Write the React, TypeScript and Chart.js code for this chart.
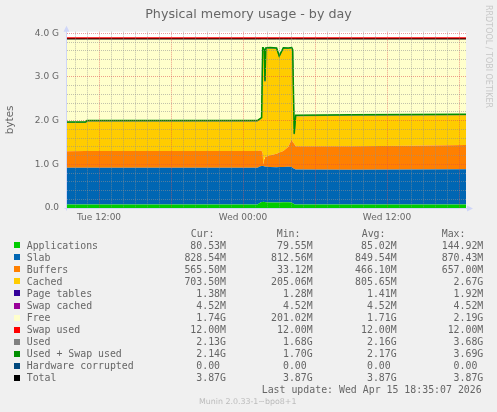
import React, { useEffect, useRef } from "react";
import { Chart, registerables } from "chart.js";

Chart.register(...registerables);

// ---- time axis (hours since Tue 00:00) ----
const hours = [9.333, 10.9, 11.0, 25.2, 25.4, 25.55, 25.64, 25.69, 25.78, 25.83, 25.9, 26.25, 26.8, 27.02, 27.36, 27.78, 28.06, 28.14, 28.27, 28.39, 33.0, 38.0, 42.583];

// ---- series values (MiB) ----
const applications = [80, 80, 80, 81, 120, 138, 142, 145, 140, 138, 135, 130, 128, 130, 132, 135, 130, 110, 90, 82, 80, 80, 80.5];
const slab = [862, 864, 865, 865, 855, 845, 840, 838, 835, 833, 832, 830, 830, 830, 830, 830, 832, 830, 828, 818, 814, 820, 828.5];
const buffers = [390, 390, 390, 390, 375, 360, 300, 33, 180, 220, 237, 277, 314, 340, 377, 471, 650, 610, 590, 548, 555, 562, 565.5];
const cached = [669, 667, 697, 696, 724, 761, 2460, 2726, 2539, 1773, 2530, 2507, 2462, 2247, 2400, 2298, 2132, 2144, 216, 706, 720, 712, 703.5];
const pageTables = [1.3, 1.3, 1.3, 1.3, 1.5, 1.7, 1.9, 1.9, 1.9, 1.9, 1.9, 1.8, 1.8, 1.8, 1.8, 1.8, 1.8, 1.7, 1.5, 1.4, 1.4, 1.4, 1.38];
const swapCached = [4.52, 4.52, 4.52, 4.52, 4.52, 4.52, 4.52, 4.52, 4.52, 4.52, 4.52, 4.52, 4.52, 4.52, 4.52, 4.52, 4.52, 4.52, 4.52, 4.52, 4.52, 4.52, 4.52];
const free = [1956, 1956, 1925, 1925, 1883, 1853, 215, 215, 263, 993, 223, 213, 223, 410, 218, 223, 213, 263, 2233, 1803, 1788, 1783, 1779];
const swapUsed = [12, 12, 12, 12, 12, 12, 12, 12, 12, 12, 12, 12, 12, 12, 12, 12, 12, 12, 12, 12, 12, 12, 12];
const used = [2007, 2007, 2038, 2038, 2080, 2110, 3748, 3748, 3700, 2970, 3740, 3750, 3740, 3553, 3745, 3740, 3750, 3700, 1730, 2160, 2175, 2180, 2184];
const usedSwap = [2019, 2019, 2050, 2050, 2092, 2122, 3760, 3760, 3712, 2982, 3752, 3762, 3752, 3565, 3757, 3752, 3762, 3712, 1742, 2172, 2187, 2192, 2196];
const total = [3963, 3963, 3963, 3963, 3963, 3963, 3963, 3963, 3963, 3963, 3963, 3963, 3963, 3963, 3963, 3963, 3963, 3963, 3963, 3963, 3963, 3963, 3963];

// ---- ticks ----
const xTickHours = [12, 24, 36];
const xTickLabels = ["Tue 12:00", "Wed 00:00", "Wed 12:00"];
const yTickG = [0, 0.2, 0.4, 0.6, 0.8, 1, 1.2, 1.4, 1.6, 1.8, 2, 2.2, 2.4, 2.6, 2.8, 3, 3.2, 3.4, 3.6, 3.8, 4];
const yMajorG = [0, 1, 2, 3, 4];
const yMajorLabels = ["0.0", "1.0 G", "2.0 G", "3.0 G", "4.0 G"];

// ---- legend table ----
const legendNames = ["Applications", "Slab", "Buffers", "Cached", "Page tables", "Swap cached", "Free", "Swap used", "Used", "Used + Swap used", "Hardware corrupted", "Total"];
const legendColors = ["#00CC00", "#0066B3", "#FF8000", "#FFCC00", "#330099", "#990099", "#FFFFCC", "#FF0000", "#808080", "#008F00", "#00487D", "#000000"];
const curValues = ["80.53M", "828.54M", "565.50M", "703.50M", "1.38M", "4.52M", "1.74G", "12.00M", "2.13G", "2.14G", "0.00 ", "3.87G"];
const minValues = ["79.55M", "812.56M", "33.12M", "205.06M", "1.28M", "4.52M", "201.02M", "12.00M", "1.68G", "1.70G", "0.00 ", "3.87G"];
const avgValues = ["85.02M", "849.54M", "466.10M", "805.65M", "1.41M", "4.52M", "1.71G", "12.00M", "2.16G", "2.17G", "0.00 ", "3.87G"];
const maxValues = ["144.92M", "870.43M", "657.00M", "2.67G", "1.92M", "4.52M", "2.19G", "12.00M", "3.68G", "3.69G", "0.00 ", "3.87G"];

const GRID = "rgba(143,143,143,0.55)";
const MGRID = "rgba(222,79,79,0.55)";
const AXIS = "#CFD6F8";
const FONT_COLOR = "#666666";

const framePlugin = {
  id: "frame",
  beforeDraw(chart: any) {
    const { ctx, chartArea: a } = chart;
    ctx.save();
    ctx.fillStyle = "#FFFFFF";
    ctx.fillRect(a.left, a.top, a.right - a.left, a.bottom - a.top);
    ctx.restore();
  },
  afterDraw(chart: any) {
    const { ctx, chartArea: a } = chart;
    ctx.save();
    ctx.strokeStyle = AXIS;
    ctx.fillStyle = AXIS;
    ctx.lineWidth = 1;
    const lx = Math.round(a.left) - 0.5;
    const by = Math.round(a.bottom) + 0.5;
    ctx.beginPath();
    ctx.moveTo(lx, by + 2);
    ctx.lineTo(lx, a.top - 1);
    ctx.moveTo(lx - 2, by);
    ctx.lineTo(a.right + 2, by);
    ctx.stroke();
    ctx.beginPath();
    ctx.moveTo(lx, a.top - 6);
    ctx.lineTo(lx - 3, a.top);
    ctx.lineTo(lx + 3, a.top);
    ctx.closePath();
    ctx.fill();
    ctx.beginPath();
    ctx.moveTo(a.right + 7, by);
    ctx.lineTo(a.right + 1, by - 3);
    ctx.lineTo(a.right + 1, by + 3);
    ctx.closePath();
    ctx.fill();
    ctx.restore();
  },
};

function Txt(props: { x: number; top: number; align?: "left" | "right" | "center"; size: number; mono?: boolean; color?: string; children: any }) {
  const { x, top, align = "left", size, mono, color = FONT_COLOR, children } = props;
  const style: any = {
    position: "absolute",
    top,
    fontFamily: mono ? "'DejaVu Sans Mono', monospace" : "'DejaVu Sans', sans-serif",
    fontSize: size,
    lineHeight: `${size}px`,
    color,
    whiteSpace: "pre",
  };
  if (align === "left") style.left = x;
  else if (align === "right") style.right = 497 - x;
  else {
    style.left = x - 200;
    style.width = 400;
    style.textAlign = "center";
  }
  if (align === "right") style.textAlign = "right";
  return <div style={style}>{children}</div>;
}

export default function App() {
  const ref = useRef<HTMLCanvasElement>(null);

  useEffect(() => {
    document.body.style.margin = "0";
    const pts = (arr: number[]) => arr.map((v, i) => ({ x: hours[i], y: v }));
    const area = (label: string, data: number[], color: string, first = false) => ({
      type: "line",
      label,
      data: pts(data),
      stack: "mem",
      fill: first ? "origin" : "-1",
      backgroundColor: color,
      borderColor: color,
      borderWidth: 0,
      pointRadius: 0,
      tension: 0,
    });
    const line = (label: string, data: number[], color: string, width: number) => ({
      type: "line",
      label,
      data: pts(data),
      stack: "line-" + label,
      fill: false,
      borderColor: color,
      backgroundColor: color,
      borderWidth: width,
      pointRadius: 0,
      tension: 0,
    });
    const datasets: any[] = [
      line("Used + Swap used", usedSwap, "#008F00", 1.5),
      line("Used", used, "#808080", 1),
      line("Total", total, "#000000", 1),
      area("Applications", applications, "#00CC00", true),
      area("Slab", slab, "#0066B3"),
      area("Buffers", buffers, "#FF8000"),
      area("Cached", cached, "#FFCC00"),
      area("Page tables", pageTables, "#330099"),
      area("Swap cached", swapCached, "#990099"),
      area("Free", free, "#FFFFCC"),
      { ...area("Swap used", swapUsed, "#FF0000"), borderWidth: 2.2 },
    ];

    const isMajorY = (v: number) => {
      const g = v / 1024;
      return Math.abs(g - Math.round(g)) < 1e-6;
    };

    const chart = new Chart(ref.current as HTMLCanvasElement, {
      type: "line",
      data: { datasets },
      plugins: [framePlugin],
      options: {
        animation: false,
        responsive: false,
        events: [],
        layout: { padding: { left: 0, right: 31, top: 31.7, bottom: 0 } },
        plugins: { legend: { display: false }, tooltip: { enabled: false }, title: { display: false } },
        scales: {
          x: {
            type: "linear",
            min: hours[0],
            max: hours[hours.length - 1],
            afterBuildTicks: (s: any) => {
              const t: any[] = [];
              for (let h = Math.ceil(s.min); h <= s.max; h++) t.push({ value: h });
              s.ticks = t;
            },
            afterFit: (s: any) => {
              s.height = 22;
            },
            grid: {
              color: (c: any) => (c.tick && c.tick.value % 6 === 0 ? MGRID : GRID),
              lineWidth: 1,
              drawTicks: false,
              z: 1,
            },
            border: { display: false, dash: [1, 1] },
            ticks: {
              autoSkip: false,
              maxRotation: 0,
              minRotation: 0,
              padding: 4,
              color: FONT_COLOR,
              font: { family: "'DejaVu Sans'", size: 9 },
              callback: (v: any) => {
                const i = xTickHours.indexOf(Number(v));
                return i >= 0 ? xTickLabels[i] : "";
              },
            },
          },
          y: {
            stacked: true,
            min: 0,
            max: 4133.5,
            afterBuildTicks: (s: any) => {
              s.ticks = yTickG.map((g) => ({ value: g * 1024 }));
            },
            afterFit: (s: any) => {
              s.width = 67;
            },
            grid: {
              color: (c: any) => (c.tick && isMajorY(c.tick.value) ? MGRID : GRID),
              lineWidth: 1,
              drawTicks: false,
              z: 1,
            },
            border: { display: false, dash: [1, 1] },
            ticks: {
              autoSkip: false,
              padding: 8,
              color: FONT_COLOR,
              font: { family: "'DejaVu Sans'", size: 9 },
              callback: (v: any) => {
                const g = Number(v) / 1024;
                const i = yMajorG.findIndex((m) => Math.abs(m - g) < 1e-6);
                return i >= 0 ? yMajorLabels[i] : "";
              },
            },
            title: {
              display: true,
              text: "bytes",
              color: FONT_COLOR,
              font: { family: "'DejaVu Sans'", size: 10.4 },
              padding: { top: 4, bottom: 0 },
            },
          },
        },
      } as any,
    });
    return () => chart.destroy();
  }, []);

  const rowBase = 249.3;
  const rowStep = 12.04;
  const fs = 9.9;
  const off = 0.846 * fs;

  return (
    <div style={{ position: "absolute", left: 0, top: 0, width: 497, height: 412, background: "#F0F0F0", overflow: "hidden" }}>
      <canvas ref={ref} width={497} height={230} style={{ position: "absolute", left: 0, top: 0, width: 497, height: 230 }} />
      <Txt x={248.5} top={18.3 - 0.846 * 12.7} align="center" size={12.7}>Physical memory usage - by day</Txt>
      <div
        style={{
          position: "absolute",
          left: 492.3,
          top: 5,
          transform: "rotate(90deg)",
          transformOrigin: "0 0",
          fontFamily: "'DejaVu Sans', sans-serif",
          fontSize: 8,
          lineHeight: "8px",
          color: "#C8C8C8",
          whiteSpace: "pre",
        }}
      >
        RRDTOOL / TOBI OETIKER
      </div>
      <Txt x={190.7} top={237.3 - off} size={fs} mono>Cur:</Txt>
      <Txt x={276.7} top={237.3 - off} size={fs} mono>Min:</Txt>
      <Txt x={361.7} top={237.3 - off} size={fs} mono>Avg:</Txt>
      <Txt x={441.7} top={237.3 - off} size={fs} mono>Max:</Txt>
      {legendNames.map((name, i) => {
        const base = rowBase + rowStep * i;
        return (
          <React.Fragment key={name}>
            <div style={{ position: "absolute", left: 14, top: base - 7, width: 6, height: 6, background: legendColors[i] }} />
            <Txt x={26.7} top={base - off} size={fs} mono>{name}</Txt>
            <Txt x={226} top={base - off} size={fs} mono align="right">{curValues[i]}</Txt>
            <Txt x={312.7} top={base - off} size={fs} mono align="right">{minValues[i]}</Txt>
            <Txt x={396.7} top={base - off} size={fs} mono align="right">{avgValues[i]}</Txt>
            <Txt x={483.3} top={base - off} size={fs} mono align="right">{maxValues[i]}</Txt>
          </React.Fragment>
        );
      })}
      <Txt x={261.7} top={393.5 - off} size={fs} mono>Last update: Wed Apr 15 18:35:07 2026</Txt>
      <Txt x={247.7} top={404.3 - 0.846 * 7.9} align="center" size={7.9} color="#BBBBBB">Munin 2.0.33-1~bpo8+1</Txt>
    </div>
  );
}
